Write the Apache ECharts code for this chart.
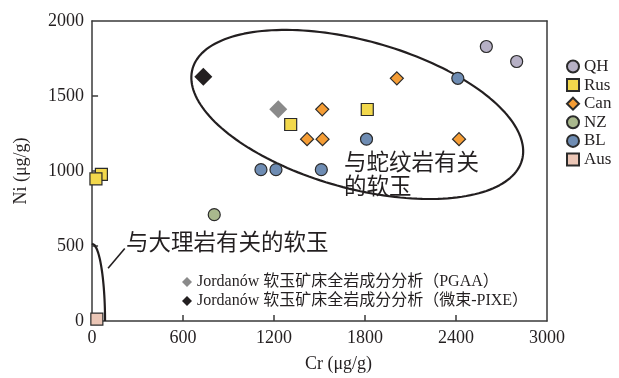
<!DOCTYPE html>
<html><head><meta charset="utf-8">
<script src="https://cdn.jsdelivr.net/npm/echarts@6/dist/echarts.min.js"></script>
<style>html,body{margin:0;padding:0;background:#fff}#c{width:619px;height:378px}</style>
</head><body><div id="c"></div>
<script>
// ---- data (Cr, Ni in µg/g) ----
const QH  = [[2600,1830],[2800,1730]];
const Rus = [[1815,1410],[1310,1310],[62,978],[26,948]];
const Can = [[2010,1618],[1518,1411],[1418,1212],[1520,1212],[2420,1212]];
const NZ  = [[806,709]];
const BL  = [[2412,1618],[1810,1212],[1114,1009],[1213,1009],[1512,1009]];
const Aus = [[32,13]];
const PGAA = [[1228,1411]];
const PIXE = [[734,1629]];
const xTicks = ['0','600','1200','1800','2400','3000'];
const yTicks = ['0','500','1000','1500','2000'];
const xInnerTicks = [600,1200,1800,2400];
const yInnerTicks = [500,1000,1500];
// annotation shapes (data units): ellipse centre and conjugate half-axes
const serpEllipse = {c:[1749,1377], A:[1086,-305], B:[-132,-474]};
const marbleArc = {rx:86, ry:516};
const leader = [[106,351],[216,483]];

function ellipsePts(e){const p=[];for(let i=0;i<=180;i++){const t=i/180*2*Math.PI;p.push([e.c[0]+e.A[0]*Math.cos(t)+e.B[0]*Math.sin(t), e.c[1]+e.A[1]*Math.cos(t)+e.B[1]*Math.sin(t)]);}return p;}
function arcPts(a){const p=[];for(let i=0;i<=60;i++){const t=i/60*Math.PI/2;p.push([a.rx*Math.sin(t), a.ry*Math.cos(t)]);}return p;}

const SERIF = 'Liberation Serif';
const AX = '#3a3a3a';
const chart = echarts.init(document.getElementById('c'));
function pts(name,data,symbol,size,color,border){
  return {name,type:'scatter',data,symbol,symbolSize:size,z:5,
    itemStyle:{color,borderColor:border||'#2b2b2b',borderWidth:border===null?0:1.2,opacity:1},emphasis:{disabled:true}};
}
const pgaaName='Jordanów 软玉矿床全岩成分分析（PGAA）';
const pixeName='Jordanów 软玉矿床全岩成分分析（微束-PIXE）';
const lineStyle={color:'#231f20',width:2.2};
function fmtX(v){const i=Math.round(v/600);return xTicks[i]!==undefined?xTicks[i]:'';}
function fmtY(v){const i=Math.round(v/500);return yTicks[i]!==undefined?yTicks[i]:'';}
const plain = {axisTick:{show:false},axisLabel:{show:false},splitLine:{show:false},axisLine:{show:true,onZero:false,lineStyle:{color:AX,width:1.5}}};
// inward tick marks as short line series (length ≈ 40 data units ≈ 6 px)
const tickSeries = [];
xInnerTicks.forEach(v=>tickSeries.push({type:'line',data:[[v,0],[v,40]],symbol:'none',silent:true,z:1,lineStyle:{color:AX,width:1.5}}));
yInnerTicks.forEach(v=>tickSeries.push({type:'line',data:[[0,v],[40,v]],symbol:'none',silent:true,z:1,lineStyle:{color:AX,width:1.5}}));
chart.setOption({
  animation:false,
  textStyle:{fontFamily:SERIF},
  grid:{left:92,right:72,top:21,bottom:55},
  xAxis:[{type:'value',min:0,max:3000,interval:600,position:'bottom',
    name:'Cr (μg/g)',nameLocation:'middle',nameGap:34,
    nameTextStyle:{fontFamily:SERIF,fontSize:18,color:'#231f20',padding:[0,0,0,38]},
    axisLine:{show:true,onZero:false,lineStyle:{color:AX,width:1.5}},
    axisTick:{show:false},
    axisLabel:{formatter:fmtX,fontFamily:SERIF,fontSize:18,color:'#231f20',margin:8},
    splitLine:{show:false}},
    Object.assign({type:'value',min:0,max:3000,position:'top'},plain)],
  yAxis:[{type:'value',min:0,max:2000,interval:500,position:'left',
    name:'Ni (μg/g)',nameLocation:'middle',nameGap:62,nameRotate:90,
    nameTextStyle:{fontFamily:SERIF,fontSize:18,color:'#231f20'},
    axisLine:{show:true,onZero:false,lineStyle:{color:AX,width:1.5}},
    axisTick:{show:false},
    axisLabel:{formatter:fmtY,fontFamily:SERIF,fontSize:18,color:'#231f20',margin:8},
    splitLine:{show:false}},
    Object.assign({type:'value',min:0,max:2000,position:'right'},plain)],
  legend:[
    {data:['QH','Rus','Can','NZ','BL','Aus'],orient:'vertical',left:561,top:53,
      itemWidth:12,itemHeight:12,itemGap:1.6,
      textStyle:{fontFamily:SERIF,fontSize:17,color:'#231f20',lineHeight:17}},
    {data:[pgaaName,pixeName],orient:'vertical',left:177,top:269,
      itemWidth:10,itemHeight:10,itemGap:3,
      textStyle:{fontFamily:'"Liberation Serif","Noto Sans CJK SC"',fontSize:16,color:'#231f20',lineHeight:16}}
  ],
  graphic:[
    {type:'text',left:344,top:150,style:{text:'与蛇纹岩有关',font:'22.5px "Noto Sans CJK SC"',fill:'#231f20'}},
    {type:'text',left:344,top:174,style:{text:'的软玉',font:'22.5px "Noto Sans CJK SC"',fill:'#231f20'}},
    {type:'text',left:126,top:230,style:{text:'与大理岩有关的软玉',font:'22.5px "Noto Sans CJK SC"',fill:'#231f20'}}
  ],
  series:[
    {type:'line',data:ellipsePts(serpEllipse),symbol:'none',lineStyle,z:2,silent:true,smooth:false},
    {type:'line',data:arcPts(marbleArc),symbol:'none',lineStyle,z:2,silent:true},
    {type:'line',data:leader,symbol:'none',lineStyle:{color:'#231f20',width:1.6},z:2,silent:true},
    ...tickSeries,
    pts('QH',QH,'circle',12,'#b6b0c5'),
    pts('Rus',Rus,'rect',12,'#f2d84c'),
    pts('Can',Can,'diamond',13,'#f59d35'),
    pts('NZ',NZ,'circle',12,'#a9b88d'),
    pts('BL',BL,'circle',12,'#6e8cb3'),
    pts('Aus',Aus,'rect',12,'#ebc6b6'),
    pts(pgaaName,PGAA,'diamond',18,'#8a8a8a',null),
    pts(pixeName,PIXE,'diamond',18,'#231f20',null)
  ]
});
</script></body></html>
